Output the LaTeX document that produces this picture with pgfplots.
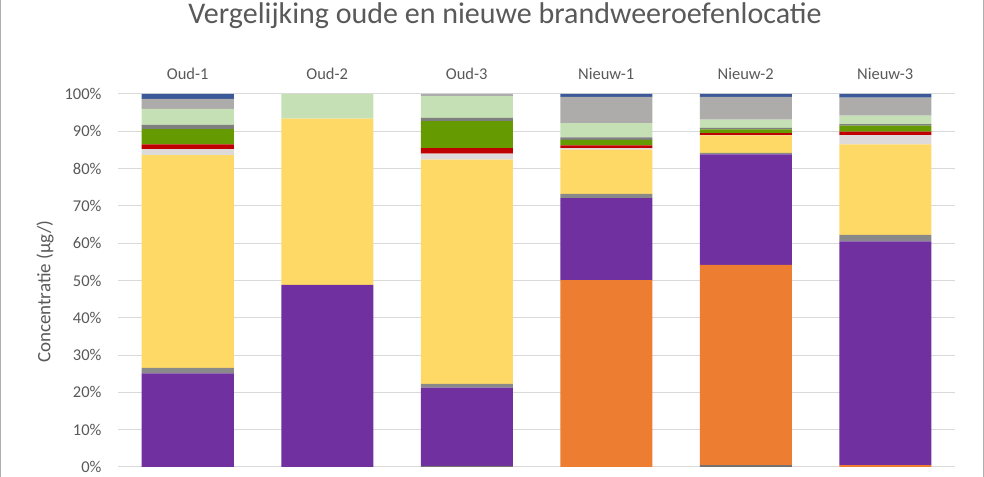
\documentclass[border=0pt]{standalone}
\usepackage{pgfplots}
\pgfplotsset{compat=1.18}
\usepackage{pgfplotstable}
\usepackage{fontspec}
\setmainfont{Carlito}
\definecolor{cS0}{HTML}{767171}
\definecolor{cOr}{HTML}{ED7D31}
\definecolor{cPu}{HTML}{7030A0}
\definecolor{cG1}{HTML}{898989}
\definecolor{cYe}{HTML}{FFD966}
\definecolor{cLg}{HTML}{DEDADA}
\definecolor{cRe}{HTML}{C00000}
\definecolor{cGr}{HTML}{659A00}
\definecolor{cG2}{HTML}{7F7F7F}
\definecolor{cLgr}{HTML}{C5E0B4}
\definecolor{cSi}{HTML}{AEABAB}
\definecolor{cBl}{HTML}{3B5998}
\definecolor{txt}{HTML}{595959}
\definecolor{grid}{HTML}{D9D9D9}
\pgfplotstableread{
x s0 or pu ga ye lg re gr gb lgr si bl
0 0   0    25.1 1.5 57.0 1.6 1.3 4.1 1.1 4.3 2.7 1.3
1 0   0    48.8 0   44.6 0   0   0   0   6.6 0   0
2 0.3 0    21.0 1.0 60.1 1.6 1.5 7.2 0.9 5.8 0.6 0
3 0   50.1 22.0 1.1 11.9 0.4 0.7 1.5 0.7 3.8 7.0 0.8
4 0.5 53.7 29.6 0.4 4.7  0.1 0.5 1.0 0.4 2.2 6.1 0.8
5 0   0.5  60.0 1.7 24.3 2.5 0.9 1.6 0.4 2.3 4.8 1.0
}\data
\begin{document}
\begin{tikzpicture}
\useasboundingbox (0,0) rectangle (984bp,477bp);
\draw[color=grid!80!black, line width=1bp] (0.5bp,0) -- (0.5bp,477bp);
\draw[color=grid!80!black, line width=1bp] (983.5bp,0) -- (983.5bp,477bp);
\node[font=\fontsize{30bp}{36bp}\selectfont, text=txt, anchor=center] at (505bp,461bp) {Vergelijking oude en nieuwe brandweeroefenlocatie};
\begin{axis}[
  at={(118bp,10bp)}, anchor=south west,
  scale only axis, width=837bp, height=373bp,
  ybar stacked, bar width=92bp,
  xmin=-0.5, xmax=5.5, ymin=0, ymax=100,
  xtick={0,1,2,3,4,5},
  xticklabels={Oud-1,Oud-2,Oud-3,Nieuw-1,Nieuw-2,Nieuw-3},
  xticklabel pos=upper,
  ytick={0,10,...,100},
  yticklabel={\pgfmathprintnumber{\tick}\%},
  /pgf/number format/assume math mode=true,
  axis line style={draw=none},
  major tick length=0pt,
  ymajorgrids, grid style={color=grid, line width=1bp},
  tick label style={font=\fontsize{16.5bp}{19bp}\selectfont, text=txt},
  xticklabel style={yshift=11bp},
  yticklabel style={xshift=-13bp},
  ylabel={Concentratie (µg/)},
  ylabel style={font=\fontsize{19bp}{22bp}\selectfont, text=txt, at={(axis description cs:-0.087,0.47)}, anchor=center},
  every axis plot/.append style={draw=none},
  clip=false,
]
\addplot[fill=cS0] table[x=x,y=s0]{\data};
\addplot[fill=cOr] table[x=x,y=or]{\data};
\addplot[fill=cPu] table[x=x,y=pu]{\data};
\addplot[fill=cG1] table[x=x,y=ga]{\data};
\addplot[fill=cYe] table[x=x,y=ye]{\data};
\addplot[fill=cLg] table[x=x,y=lg]{\data};
\addplot[fill=cRe] table[x=x,y=re]{\data};
\addplot[fill=cGr] table[x=x,y=gr]{\data};
\addplot[fill=cG2] table[x=x,y=gb]{\data};
\addplot[fill=cLgr] table[x=x,y=lgr]{\data};
\addplot[fill=cSi] table[x=x,y=si]{\data};
\addplot[fill=cBl] table[x=x,y=bl]{\data};
\end{axis}
\end{tikzpicture}
\end{document}
